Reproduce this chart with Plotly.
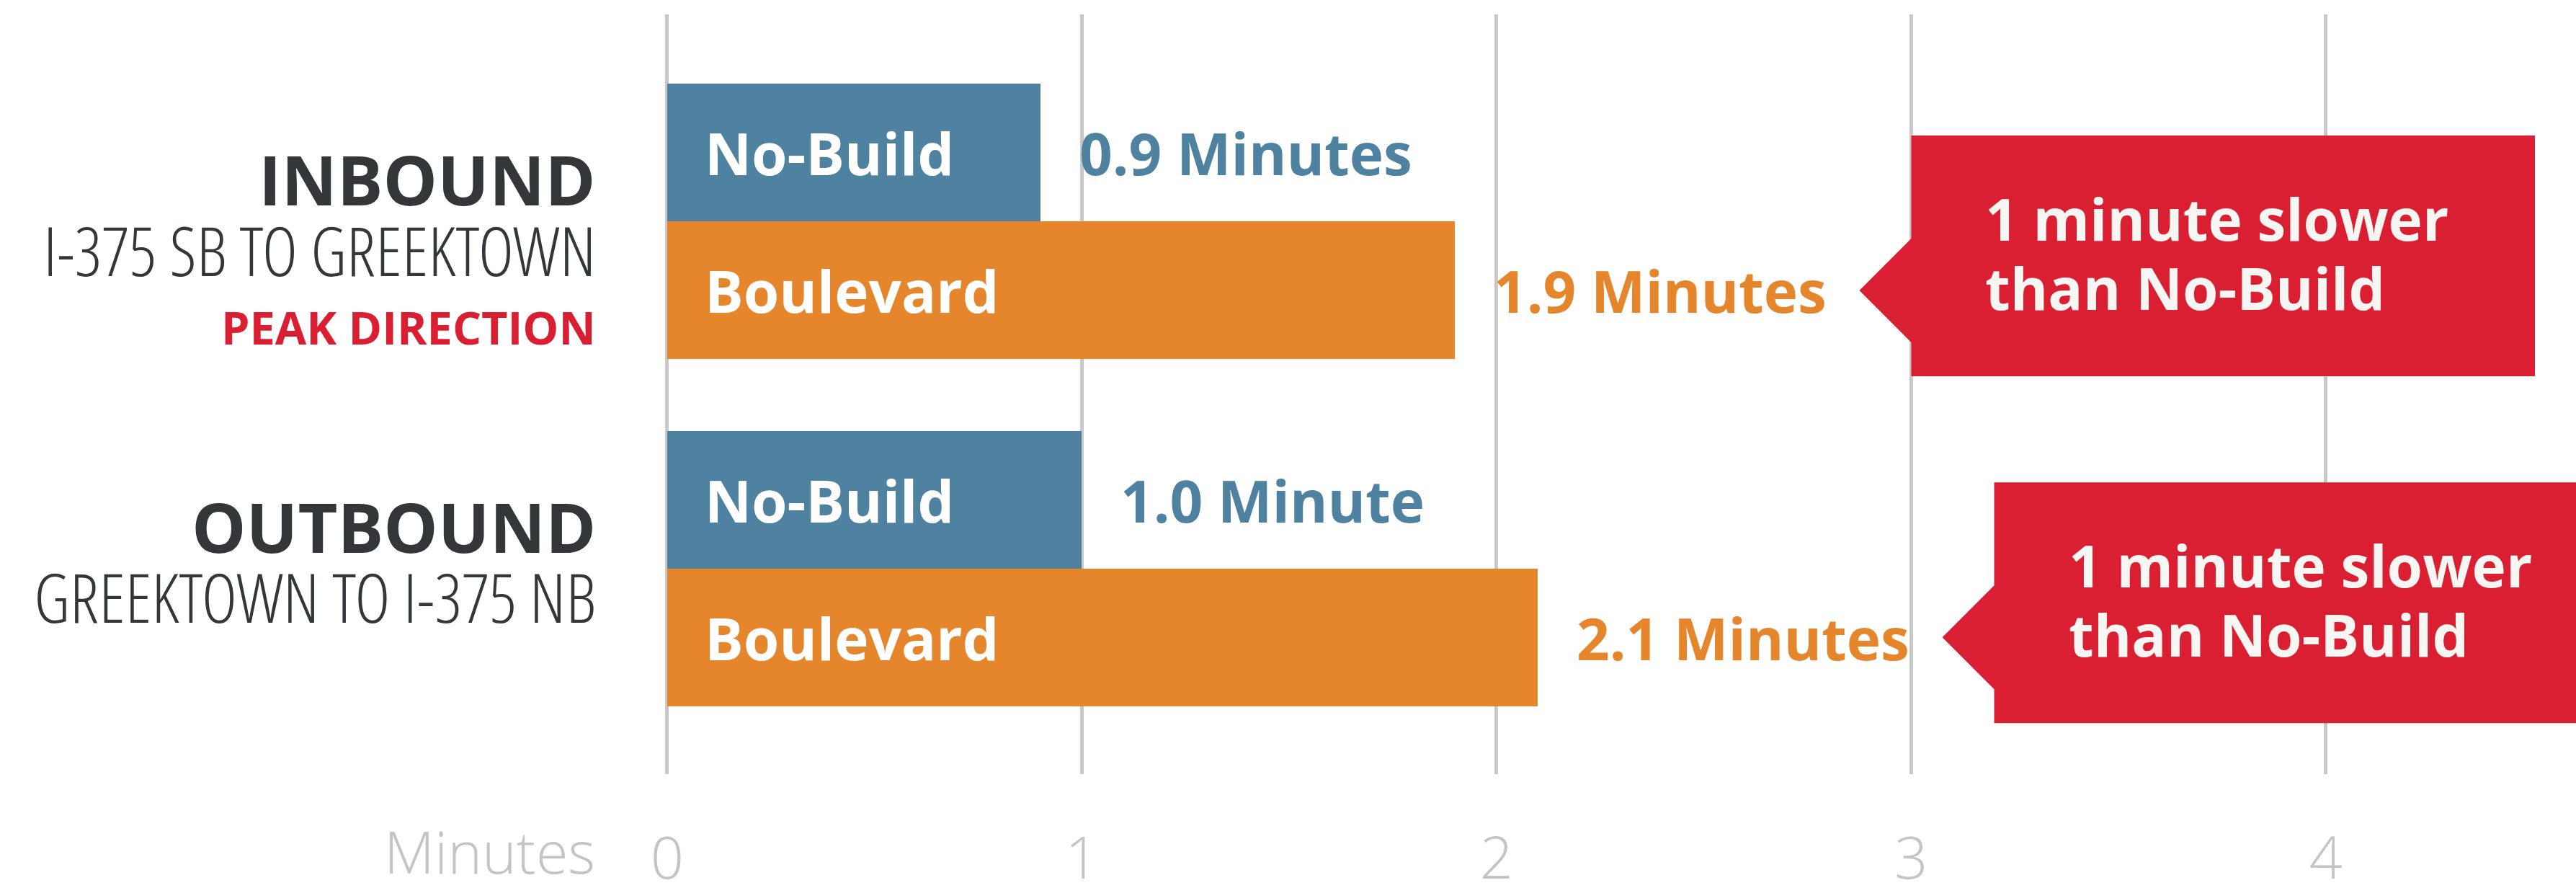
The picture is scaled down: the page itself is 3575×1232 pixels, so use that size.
import plotly.graph_objects as go

# Travel times (minutes) per direction and scenario
directions = ["INBOUND", "OUTBOUND"]
routes = ["I-375 SB TO GREEKTOWN", "GREEKTOWN TO I-375 NB"]
notes = ["PEAK DIRECTION", ""]
scenarios = ["No-Build", "Boulevard"]
no_build = [0.9, 1.0]
boulevard = [1.9, 2.1]
value_labels_nb = ["0.9 Minutes", "1.0 Minute"]
value_labels_bv = ["1.9 Minutes", "2.1 Minutes"]
callout_lines = ["1 minute slower", "than No-Build"]
x_ticks = [0, 1, 2, 3, 4]
x_title = "Minutes"

BLUE = "#4f82a0"
ORANGE = "#e5862c"
RED = "#da1f33"
DARK = "#33373a"
GRID = "#c8c8c8"
TICK = "#c4c4c4"
WHITE_TXT = "#f8f6f3"

BOLD = "Open Sans"
COND_LIGHT = "'Open Sans Condensed Light', 'Open Sans'"
LIGHT = "'Open Sans Light', 'Open Sans'"

GROUP_STEP = 2.52
y_nb = [i * GROUP_STEP for i in range(len(directions))]
y_bv = [y + 1 for y in y_nb]

fig = go.Figure()
fig.add_trace(go.Bar(x=no_build, y=y_nb, orientation="h", width=1,
                     marker=dict(color=BLUE, line=dict(width=0)),
                     name=scenarios[0], hoverinfo="skip"))
fig.add_trace(go.Bar(x=boulevard, y=y_bv, orientation="h", width=1,
                     marker=dict(color=ORANGE, line=dict(width=0)),
                     name=scenarios[1], hoverinfo="skip"))

ann = []
shapes = []
for i in range(len(directions)):
    # scenario names inside the bars
    for yv, name in ((y_nb[i], scenarios[0]), (y_bv[i], scenarios[1])):
        ann.append(dict(x=0, y=yv, xref="x", yref="y", text=name, showarrow=False,
                        xanchor="left", yanchor="middle", xshift=50,
                        font=dict(family=BOLD, size=80, color="white", weight=700)))
    # values after the bar ends
    ann.append(dict(x=no_build[i], y=y_nb[i], xref="x", yref="y", text=value_labels_nb[i],
                    showarrow=False, xanchor="left", yanchor="middle", xshift=52,
                    font=dict(family=BOLD, size=80, color=BLUE, weight=700)))
    ann.append(dict(x=boulevard[i], y=y_bv[i], xref="x", yref="y", text=value_labels_bv[i],
                    showarrow=False, xanchor="left", yanchor="middle", xshift=52,
                    font=dict(family=BOLD, size=80, color=ORANGE, weight=700)))
    # direction headings on the left
    ann.append(dict(x=0, y=y_nb[i] + 0.19, xref="x", yref="y", text=directions[i],
                    showarrow=False, xanchor="right", yanchor="middle", xshift=-97,
                    align="right",
                    font=dict(family=BOLD, size=95, color=DARK, weight=700)))
    ann.append(dict(x=0, y=y_nb[i] + 0.70, xref="x", yref="y", text=routes[i],
                    showarrow=False, xanchor="right", yanchor="middle", xshift=-97,
                    align="right",
                    font=dict(family=COND_LIGHT, size=95, color=DARK, weight=300)))
    if notes[i]:
        ann.append(dict(x=0, y=y_nb[i] + 1.262, xref="x", yref="y", text=notes[i],
                        showarrow=False, xanchor="right", yanchor="middle", xshift=-97,
                        align="right",
                        font=dict(family=BOLD, size=63, color=RED, weight=700)))

    # red callout pointing at the Boulevard bar
    yc = y_bv[i]
    tip = boulevard[i] + 0.975
    xl = tip + 0.125
    xr = xl + 1.504
    top, bot, half = yc - 1.126, yc + 0.623, 0.377
    path = (f"M {xl},{top} L {xr},{top} L {xr},{bot} L {xl},{bot} "
            f"L {xl},{yc + half} L {tip},{yc} L {xl},{yc - half} Z")
    shapes.append(dict(type="path", path=path, xref="x", yref="y",
                       fillcolor=RED, line=dict(width=0), layer="above"))
    for k, line in enumerate(callout_lines):
        ann.append(dict(x=xl, y=yc - 0.526 + k * 0.502, xref="x", yref="y", text=line,
                        showarrow=False, xanchor="left", yanchor="middle", xshift=101,
                        font=dict(family=BOLD, size=80, color=WHITE_TXT, weight=700)))

ann.append(dict(x=0, y=-0.101, xref="x", yref="paper", text=x_title, showarrow=False,
                xanchor="right", yanchor="middle", xshift=-98, align="right",
                font=dict(family=LIGHT, size=81, color=TICK, weight=300)))

fig.update_layout(
    width=3575, height=1232,
    margin=dict(l=897, r=0, t=20, b=158, pad=0),
    paper_bgcolor="white", plot_bgcolor="white",
    showlegend=False, barmode="overlay", bargap=0,
    annotations=ann, shapes=shapes,
    xaxis=dict(range=[-0.05, 4.603], tickvals=x_ticks, showgrid=True,
               gridcolor=GRID, gridwidth=4.5, zeroline=False, showline=False,
               ticks="", ticklabelstandoff=63, automargin=False,
               tickfont=dict(family=LIGHT, size=81, color=TICK, weight=300),
               fixedrange=True),
    yaxis=dict(range=[4.513, -1.005], showgrid=False, zeroline=False, showline=False,
               showticklabels=False, ticks="", automargin=False, fixedrange=True),
)

fig.write_html("out.html")
